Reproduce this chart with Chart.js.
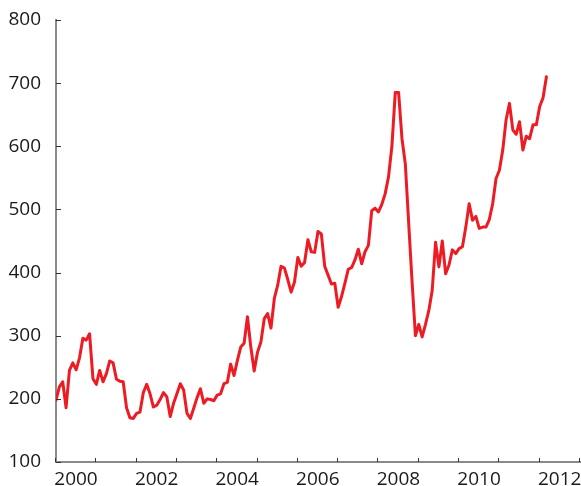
<!DOCTYPE html>
<html>
<head>
<meta charset="utf-8">
<script src="https://cdn.jsdelivr.net/npm/chart.js@4/dist/chart.umd.min.js"></script>
<style>
  html, body { margin: 0; padding: 0; background: #fff; }
  #wrap { width: 581px; height: 486px; position: relative; }
</style>
</head>
<body>
<div id="wrap"><canvas id="price-chart"></canvas></div>
<script>
// monthly series, Jan 2000 onwards
const startYear = 2000;
const prices = [
    198, 219, 227, 186, 245, 257, 246, 265, 296, 293, 303, 232,
    223, 245, 227, 240, 260, 257, 231, 228, 227, 186, 170, 169,
    177, 179, 210, 223, 208, 187, 190, 199, 210, 203, 172, 193,
    208, 224, 214, 177, 169, 185, 202, 216, 193, 200, 199, 197,
    206, 208, 224, 226, 255, 237, 261, 282, 288, 330, 282, 244,
    274, 290, 327, 335, 312, 359, 380, 410, 407, 389, 369, 385,
    424, 410, 416, 452, 433, 432, 465, 461, 410, 396, 382, 383,
    345, 362, 383, 405, 408, 420, 437, 414, 433, 443, 498, 502,
    496, 508, 525, 552, 600, 685, 685, 612, 572, 478, 386, 300,
    318, 298, 318, 340, 372, 448, 409, 450, 398, 412, 436, 430,
    438, 441, 472, 509, 483, 489, 470, 472, 472, 484, 509, 549,
    562, 594, 642, 668, 626, 619, 639, 594, 616, 612, 634, 634,
    663, 677, 710
];
const yearTicks = [2000, 2001, 2002, 2003, 2004, 2005, 2006, 2007, 2008, 2009, 2010, 2011, 2012, 2013];
const labelYears = [2000, 2002, 2004, 2006, 2008, 2010, 2012];
const valueTicks = [100, 200, 300, 400, 500, 600, 700, 800];

const points = prices.map((v, i) => ({ x: startYear + i / 12, y: v }));

const axisGrey = "#8a8a8a";
const tickDark = "#333333";
const labelFont = { family: "'Open Sans', sans-serif", size: 19 };

// fixed axis box, and no extra label overflow padding around the plot
function fixAxisBox(size) {
    return (scale) => {
        if (scale.isHorizontal()) scale.height = size;
        else scale.width = size;
        scale.paddingTop = 0;
        scale.paddingBottom = 0;
        scale.paddingLeft = 0;
        scale.paddingRight = 0;
    };
}

// small tick marks pointing into the plot area
const innerTicks = {
    id: "innerTicks",
    afterDatasetsDraw(chart) {
        const { ctx, chartArea, scales } = chart;
        ctx.save();
        ctx.strokeStyle = tickDark;
        ctx.lineWidth = 1;
        ctx.beginPath();
        valueTicks.forEach((v) => {
            const y = Math.round(scales.y.getPixelForValue(v)) + 0.5;
            ctx.moveTo(chartArea.left, y);
            ctx.lineTo(chartArea.left + 5, y);
        });
        yearTicks.forEach((yr) => {
            const x = Math.round(scales.x.getPixelForValue(yr)) - 0.5;
            ctx.moveTo(x, chartArea.bottom);
            ctx.lineTo(x, chartArea.bottom - 4);
        });
        ctx.stroke();
        ctx.restore();
    },
};

const ctx = document.getElementById("price-chart").getContext("2d");
new Chart(ctx, {
    type: "line",
    data: {
        datasets: [{
            data: points,
            borderColor: "#ed1c24",
            borderWidth: 3,
            borderJoinStyle: "round",
            borderCapStyle: "round",
            pointRadius: 0,
            tension: 0,
            fill: false,
        }],
    },
    options: {
        responsive: true,
        maintainAspectRatio: false,
        animation: false,
        layout: { padding: { top: 20, right: 1, left: 0, bottom: 0 } },
        plugins: {
            legend: { display: false },
            tooltip: { enabled: false },
        },
        scales: {
            x: {
                type: "linear",
                min: 2000,
                max: 2013,
                afterBuildTicks(scale) {
                    scale.ticks = yearTicks.map((v) => ({ value: v }));
                },
                afterFit: fixAxisBox(24),
                grid: { drawOnChartArea: false, drawTicks: false },
                border: { color: axisGrey, width: 2 },
                ticks: {
                    autoSkip: false,
                    maxRotation: 0,
                    labelOffset: 20,
                    padding: 6,
                    color: "#1a1a1a",
                    font: labelFont,
                    callback: (v) => (labelYears.includes(v) ? String(v) : ""),
                },
            },
            y: {
                min: 100,
                max: 800,
                afterBuildTicks(scale) {
                    scale.ticks = valueTicks.map((v) => ({ value: v }));
                },
                afterFit: fixAxisBox(56),
                grid: { drawOnChartArea: false, drawTicks: false },
                border: { color: axisGrey, width: 2 },
                ticks: {
                    padding: 15,
                    color: "#1a1a1a",
                    font: labelFont,
                },
            },
        },
    },
    plugins: [innerTicks],
});
</script>
</body>
</html>
